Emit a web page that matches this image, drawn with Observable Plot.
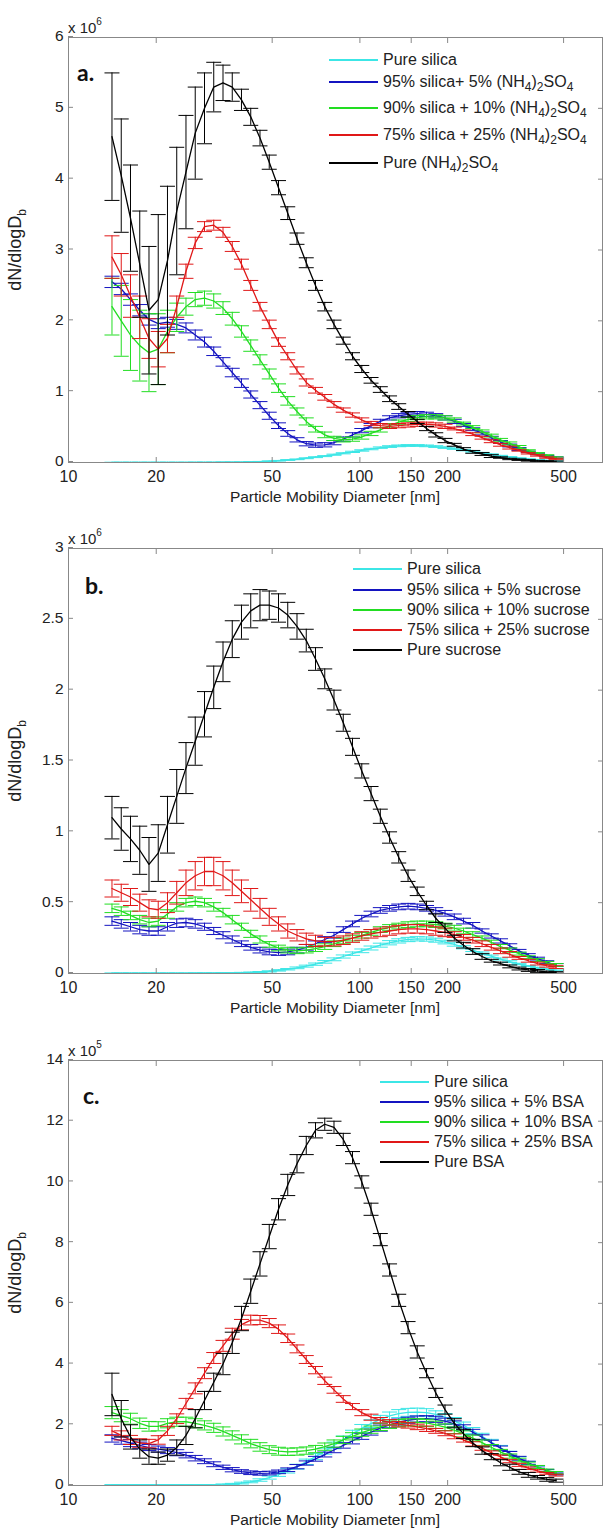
<!DOCTYPE html>
<html><head><meta charset="utf-8">
<script src="https://cdn.jsdelivr.net/npm/d3@7"></script>
<script src="https://cdn.jsdelivr.net/npm/@observablehq/plot@0.6"></script>
<style>
body{margin:0;background:#fff;font-family:'Liberation Sans',Arial,sans-serif;}
#wrap{position:relative;width:605px;height:1530px;overflow:hidden;background:#fff}
.panel{position:absolute;left:0;width:605px;height:507px}
.panel svg{position:absolute;left:0;top:0}
.expo{position:absolute;font-size:15px;line-height:15px;color:#222;transform:translateY(-50%)}
.expo sup{font-size:10px;position:relative;top:-2px}
.ylab{position:absolute;transform:translate(-50%,-50%) rotate(-90deg);font-size:18px;white-space:nowrap;color:#222}
.ylab sub{font-size:12px}
.xlab{position:absolute;transform:translate(-50%,-50%);font-size:15.5px;white-space:nowrap;color:#222}
.letter{position:absolute;font-family:Lato,'Open Sans',sans-serif;font-weight:700;font-size:23px;transform:translateY(-50%);color:#111}
.lrow{position:absolute;display:flex;align-items:center;height:20px;transform:translateY(-50%);font-size:16px;white-space:nowrap;color:#222}
.lrow .sw{width:49px;height:1.6px;margin-right:5px;flex:none}
.lrow sub{font-size:12px;vertical-align:-4px;line-height:0}
</style>
</head><body>
<div id="wrap"></div>
<script>
// Particle mobility diameters (nm)
const diameters = [14.1,15.17,16.32,17.56,18.89,20.32,21.86,23.52,25.3,27.22,
29.29,31.51,33.9,36.47,39.23,42.21,45.41,48.85,52.56,56.54,
60.83,65.45,70.41,75.75,81.49,87.67,94.32,101.5,109.2,117.5,
126.4,135.9,146.3,157.3,169.3,182.1,195.9,210.8,226.8,244.0,
262.5,282.4,303.8,326.8,351.6,378.3,407.0,437.8,471.0];

const xTicks = [10, 20, 50, 100, 150, 200, 500];
const seriesColors = ["#3ce6e6", "#1414c0", "#22dd22", "#e01818", "#000000"];

// ---- Panel a (x 10^6) ----
const a_silica = [0.002,0.002,0.002,0.002,0.002,0.002,0.002,0.002,0.002,0.003,
0.003,0.003,0.004,0.004,0.005,0.008,0.012,0.018,0.025,0.035,
0.045,0.06,0.075,0.09,0.11,0.13,0.15,0.17,0.19,0.21,
0.225,0.235,0.24,0.24,0.235,0.225,0.21,0.195,0.175,0.155,
0.135,0.115,0.095,0.078,0.062,0.048,0.037,0.028,0.02];
const a_silica_err = [0.002,0.002,0.002,0.002,0.002,0.002,0.002,0.002,0.002,0.002,
0.002,0.002,0.002,0.002,0.002,0.003,0.003,0.004,0.004,0.005,
0.005,0.006,0.006,0.007,0.008,0.008,0.009,0.01,0.01,0.01,
0.012,0.012,0.012,0.012,0.012,0.012,0.011,0.01,0.01,0.009,
0.008,0.007,0.006,0.005,0.004,0.004,0.003,0.003,0.002];
const a_5 = [2.55,2.45,2.3,2.15,2.02,1.96,1.98,1.95,1.9,1.8,
1.7,1.57,1.42,1.27,1.12,0.96,0.81,0.66,0.52,0.41,
0.32,0.265,0.245,0.25,0.28,0.33,0.39,0.45,0.52,0.58,
0.63,0.66,0.68,0.69,0.68,0.66,0.63,0.58,0.53,0.47,
0.41,0.35,0.29,0.24,0.19,0.15,0.12,0.09,0.07];
const a_5_err = [0.08,0.08,0.08,0.08,0.08,0.07,0.07,0.07,0.07,0.07,
0.07,0.06,0.06,0.06,0.06,0.05,0.05,0.05,0.04,0.04,
0.03,0.03,0.03,0.03,0.03,0.03,0.03,0.03,0.03,0.03,
0.03,0.03,0.03,0.03,0.03,0.03,0.03,0.03,0.02,0.02,
0.02,0.02,0.02,0.02,0.02,0.01,0.01,0.01,0.01];
const a_10 = [2.2,2.0,1.8,1.65,1.55,1.6,1.85,2.05,2.2,2.3,
2.32,2.28,2.18,2.03,1.85,1.65,1.45,1.25,1.05,0.87,
0.72,0.58,0.47,0.39,0.34,0.32,0.33,0.36,0.41,0.46,
0.52,0.57,0.61,0.635,0.645,0.645,0.63,0.6,0.55,0.5,
0.44,0.38,0.32,0.27,0.22,0.17,0.13,0.1,0.07];
const a_10_err = [0.4,0.5,0.5,0.5,0.55,0.5,0.3,0.2,0.12,0.1,
0.1,0.1,0.09,0.09,0.08,0.08,0.07,0.07,0.06,0.06,
0.05,0.05,0.04,0.04,0.03,0.03,0.03,0.03,0.03,0.03,
0.03,0.03,0.03,0.03,0.03,0.03,0.03,0.03,0.02,0.02,
0.02,0.02,0.02,0.02,0.02,0.01,0.01,0.01,0.01];
const a_25 = [2.9,2.65,2.35,2.05,1.75,1.6,1.75,2.2,2.7,3.1,
3.33,3.35,3.25,3.05,2.8,2.5,2.2,1.95,1.7,1.5,
1.3,1.13,1.02,0.92,0.82,0.74,0.67,0.6,0.55,0.52,
0.51,0.52,0.53,0.54,0.54,0.53,0.51,0.48,0.44,0.4,
0.35,0.3,0.25,0.21,0.17,0.13,0.1,0.07,0.05];
const a_25_err = [0.3,0.3,0.3,0.3,0.28,0.25,0.2,0.15,0.1,0.08,
0.07,0.07,0.07,0.07,0.07,0.07,0.06,0.06,0.06,0.05,
0.05,0.05,0.04,0.04,0.04,0.03,0.03,0.03,0.03,0.03,
0.03,0.03,0.03,0.03,0.03,0.03,0.03,0.02,0.02,0.02,
0.02,0.02,0.02,0.02,0.01,0.01,0.01,0.01,0.01];
const a_pure = [4.6,4.05,3.45,2.8,2.15,2.3,2.85,3.55,4.1,4.65,
5.0,5.3,5.36,5.3,5.12,4.88,4.58,4.24,3.88,3.52,
3.16,2.82,2.5,2.2,1.95,1.72,1.5,1.32,1.16,1.03,
0.9,0.79,0.68,0.58,0.48,0.39,0.31,0.25,0.19,0.15,
0.12,0.09,0.07,0.05,0.04,0.03,0.02,0.015,0.01];
const a_pure_err = [0.9,0.8,0.75,0.75,0.9,1.2,1.05,0.9,0.8,0.65,
0.5,0.35,0.25,0.2,0.15,0.12,0.11,0.1,0.1,0.09,
0.08,0.07,0.07,0.06,0.06,0.05,0.05,0.05,0.04,0.04,
0.04,0.04,0.04,0.03,0.03,0.03,0.03,0.02,0.02,0.02,
0.02,0.02,0.01,0.01,0.01,0.01,0.01,0.01,0.01];
const a_labels = ["Pure silica",
"95% silica+ 5% (NH<sub>4</sub>)<sub>2</sub>SO<sub>4</sub>",
"90% silica + 10% (NH<sub>4</sub>)<sub>2</sub>SO<sub>4</sub>",
"75% silica + 25% (NH<sub>4</sub>)<sub>2</sub>SO<sub>4</sub>",
"Pure (NH<sub>4</sub>)<sub>2</sub>SO<sub>4</sub>"];
const a_yTicks = [0, 1, 2, 3, 4, 5, 6];

// ---- Panel b (x 10^6) ----
const b_silica = [0.002,0.002,0.002,0.002,0.002,0.002,0.002,0.002,0.002,0.003,
0.003,0.003,0.004,0.004,0.005,0.007,0.01,0.015,0.022,0.03,
0.04,0.052,0.066,0.082,0.1,0.12,0.14,0.16,0.18,0.2,
0.217,0.23,0.24,0.245,0.243,0.235,0.222,0.205,0.185,0.165,
0.143,0.122,0.102,0.084,0.067,0.052,0.04,0.03,0.022];
const b_silica_err = [0.002,0.002,0.002,0.002,0.002,0.002,0.002,0.002,0.002,0.002,
0.002,0.002,0.002,0.002,0.003,0.003,0.004,0.004,0.005,0.005,
0.006,0.007,0.008,0.009,0.01,0.011,0.012,0.013,0.014,0.014,
0.015,0.015,0.015,0.015,0.015,0.014,0.013,0.012,0.011,0.01,
0.009,0.008,0.007,0.006,0.005,0.004,0.004,0.003,0.003];
const b_5 = [0.37,0.35,0.33,0.31,0.3,0.3,0.33,0.355,0.36,0.35,
0.33,0.3,0.27,0.24,0.21,0.185,0.165,0.152,0.148,0.152,
0.165,0.185,0.21,0.24,0.27,0.31,0.35,0.39,0.42,0.445,
0.46,0.47,0.475,0.47,0.46,0.445,0.425,0.4,0.37,0.34,
0.3,0.265,0.23,0.195,0.16,0.13,0.105,0.08,0.06];
const b_5_err = [0.03,0.03,0.03,0.03,0.03,0.03,0.03,0.03,0.03,0.03,
0.025,0.025,0.025,0.025,0.02,0.02,0.02,0.02,0.02,0.02,
0.02,0.02,0.02,0.02,0.02,0.02,0.02,0.02,0.02,0.02,
0.02,0.02,0.02,0.02,0.02,0.02,0.02,0.02,0.02,0.02,
0.015,0.015,0.015,0.015,0.01,0.01,0.01,0.01,0.01];
const b_10 = [0.46,0.44,0.41,0.38,0.36,0.37,0.42,0.47,0.5,0.51,
0.5,0.47,0.43,0.38,0.33,0.28,0.24,0.205,0.18,0.165,
0.16,0.165,0.175,0.19,0.21,0.23,0.25,0.27,0.29,0.31,
0.325,0.335,0.345,0.35,0.35,0.345,0.335,0.32,0.3,0.275,
0.25,0.22,0.19,0.165,0.14,0.115,0.095,0.075,0.06];
const b_10_err = [0.03,0.03,0.03,0.03,0.03,0.03,0.03,0.03,0.03,0.03,
0.03,0.03,0.03,0.03,0.025,0.025,0.025,0.02,0.02,0.02,
0.02,0.02,0.02,0.02,0.02,0.02,0.02,0.02,0.02,0.02,
0.02,0.02,0.02,0.02,0.02,0.02,0.02,0.02,0.02,0.02,
0.015,0.015,0.015,0.015,0.01,0.01,0.01,0.01,0.01];
const b_25 = [0.6,0.57,0.54,0.5,0.46,0.45,0.5,0.57,0.64,0.69,
0.72,0.72,0.69,0.64,0.58,0.52,0.46,0.4,0.35,0.3,
0.27,0.245,0.23,0.225,0.225,0.235,0.25,0.265,0.28,0.29,
0.3,0.31,0.315,0.315,0.31,0.3,0.29,0.275,0.255,0.235,
0.21,0.185,0.16,0.135,0.11,0.09,0.07,0.055,0.045];
const b_25_err = [0.06,0.06,0.06,0.06,0.06,0.06,0.07,0.08,0.09,0.1,
0.1,0.1,0.1,0.09,0.08,0.08,0.07,0.06,0.05,0.05,
0.04,0.04,0.04,0.03,0.03,0.03,0.03,0.03,0.03,0.03,
0.03,0.03,0.03,0.03,0.03,0.03,0.03,0.02,0.02,0.02,
0.02,0.02,0.02,0.02,0.01,0.01,0.01,0.01,0.01];
const b_pure = [1.1,1.02,0.95,0.87,0.77,0.85,1.05,1.25,1.45,1.64,
1.83,2.02,2.2,2.36,2.48,2.56,2.6,2.6,2.58,2.53,
2.45,2.35,2.22,2.08,1.93,1.77,1.6,1.43,1.27,1.11,
0.96,0.82,0.69,0.58,0.48,0.39,0.32,0.25,0.2,0.155,
0.12,0.09,0.07,0.05,0.035,0.025,0.018,0.012,0.008];
const b_pure_err = [0.15,0.15,0.16,0.17,0.19,0.2,0.2,0.19,0.18,0.17,
0.16,0.15,0.14,0.13,0.12,0.12,0.11,0.1,0.1,0.09,
0.09,0.08,0.08,0.07,0.07,0.06,0.06,0.05,0.05,0.05,
0.04,0.04,0.04,0.03,0.03,0.03,0.03,0.02,0.02,0.02,
0.02,0.01,0.01,0.01,0.01,0.01,0.01,0.005,0.005];
const b_labels = ["Pure silica", "95% silica + 5% sucrose", "90% silica + 10% sucrose",
"75% silica + 25% sucrose", "Pure sucrose"];
const b_yTicks = [0, 0.5, 1, 1.5, 2, 2.5, 3];

// ---- Panel c (x 10^5) ----
const c_silica = [0.02,0.02,0.02,0.02,0.02,0.02,0.02,0.02,0.02,0.02,
0.02,0.02,0.03,0.05,0.08,0.12,0.18,0.26,0.36,0.48,
0.62,0.78,0.95,1.13,1.32,1.51,1.7,1.88,2.04,2.18,
2.29,2.37,2.41,2.42,2.4,2.34,2.25,2.13,1.98,1.81,
1.62,1.43,1.24,1.06,0.89,0.74,0.6,0.48,0.38];
const c_silica_err = [0.01,0.01,0.01,0.01,0.01,0.01,0.01,0.01,0.01,0.01,
0.01,0.01,0.02,0.02,0.03,0.03,0.04,0.05,0.06,0.07,
0.08,0.09,0.1,0.1,0.11,0.12,0.12,0.13,0.13,0.13,
0.13,0.13,0.13,0.13,0.13,0.12,0.12,0.11,0.11,0.1,
0.1,0.09,0.08,0.07,0.06,0.05,0.04,0.04,0.03];
const c_5 = [1.55,1.48,1.4,1.32,1.25,1.2,1.15,1.08,1.0,0.9,
0.8,0.7,0.6,0.52,0.46,0.42,0.4,0.41,0.45,0.52,
0.62,0.74,0.88,1.02,1.17,1.32,1.47,1.62,1.76,1.89,
2.0,2.09,2.15,2.19,2.2,2.18,2.12,2.03,1.91,1.76,
1.59,1.41,1.23,1.06,0.9,0.75,0.61,0.49,0.38];
const c_5_err = [0.12,0.12,0.12,0.11,0.1,0.1,0.1,0.1,0.09,0.09,
0.08,0.08,0.07,0.07,0.06,0.06,0.06,0.06,0.06,0.06,
0.07,0.07,0.08,0.08,0.09,0.09,0.1,0.1,0.1,0.1,
0.1,0.1,0.1,0.1,0.1,0.1,0.1,0.1,0.09,0.09,
0.08,0.08,0.07,0.06,0.06,0.05,0.04,0.04,0.03];
const c_10 = [2.4,2.3,2.2,2.05,1.95,1.95,2.05,2.1,2.1,2.05,
1.98,1.9,1.78,1.65,1.52,1.38,1.27,1.18,1.13,1.11,
1.12,1.15,1.2,1.28,1.38,1.5,1.62,1.74,1.84,1.93,
2.0,2.05,2.08,2.08,2.06,2.0,1.92,1.82,1.7,1.56,
1.41,1.26,1.11,0.97,0.84,0.72,0.61,0.5,0.42];
const c_10_err = [0.2,0.2,0.18,0.17,0.16,0.15,0.15,0.15,0.15,0.15,
0.15,0.15,0.15,0.15,0.15,0.14,0.14,0.13,0.13,0.12,
0.12,0.12,0.12,0.12,0.12,0.12,0.12,0.12,0.12,0.12,
0.12,0.12,0.12,0.12,0.12,0.12,0.11,0.11,0.1,0.1,
0.09,0.09,0.08,0.07,0.06,0.05,0.05,0.04,0.04];
const c_25 = [1.8,1.65,1.5,1.4,1.38,1.5,1.8,2.2,2.7,3.2,
3.7,4.2,4.6,5.0,5.3,5.45,5.45,5.35,5.15,4.85,
4.5,4.15,3.8,3.45,3.15,2.85,2.6,2.4,2.25,2.15,
2.08,2.02,1.98,1.93,1.87,1.8,1.72,1.62,1.5,1.37,
1.23,1.08,0.94,0.8,0.68,0.57,0.48,0.4,0.34];
const c_25_err = [0.15,0.15,0.15,0.14,0.14,0.14,0.15,0.16,0.17,0.18,
0.18,0.18,0.18,0.18,0.17,0.16,0.15,0.15,0.14,0.14,
0.13,0.13,0.12,0.12,0.11,0.11,0.1,0.1,0.1,0.09,
0.09,0.09,0.09,0.09,0.09,0.08,0.08,0.08,0.07,0.07,
0.07,0.06,0.06,0.05,0.05,0.04,0.04,0.03,0.03];
const c_pure = [3.0,2.2,1.6,1.2,0.95,0.9,1.0,1.25,1.65,2.2,
2.8,3.4,4.0,4.7,5.5,6.4,7.3,8.2,9.1,9.9,
10.6,11.2,11.7,11.9,11.8,11.4,10.8,10.0,9.1,8.1,
7.1,6.1,5.2,4.4,3.7,3.05,2.5,2.05,1.7,1.4,
1.15,0.95,0.75,0.6,0.45,0.35,0.27,0.2,0.16];
const c_pure_err = [0.7,0.6,0.4,0.3,0.25,0.2,0.2,0.25,0.3,0.3,
0.3,0.3,0.35,0.35,0.4,0.4,0.4,0.4,0.35,0.35,
0.3,0.3,0.25,0.2,0.2,0.2,0.2,0.2,0.2,0.2,
0.2,0.2,0.2,0.2,0.15,0.15,0.15,0.15,0.15,0.12,
0.12,0.1,0.1,0.1,0.08,0.08,0.06,0.06,0.05];
const c_labels = ["Pure silica", "95% silica + 5% BSA", "90% silica + 10% BSA",
"75% silica + 25% BSA", "Pure BSA"];
const c_yTicks = [0, 2, 4, 6, 8, 10, 12, 14];

// horizontal cap symbol for error bars
const capSymbol = {draw(ctx, size) { const r = Math.sqrt(size / Math.PI); ctx.moveTo(-r, 0); ctx.lineTo(r, 0); }};

function el(tag, cls, html) { const e = document.createElement(tag); if (cls) e.className = cls; if (html != null) e.innerHTML = html; return e; }

function panel(cfg) {
  const div = el("div", "panel");
  div.style.top = cfg.top + "px";
  const marks = [];
  cfg.values.forEach((vals, i) => {
    if (vals.length !== diameters.length || cfg.errors[i].length !== diameters.length) throw new Error("length mismatch " + cfg.letter + i);
    const rows = diameters.map((d, k) => ({d, y: vals[k], e: cfg.errors[i][k]}));
    const c = seriesColors[i];
    marks.push(
      Plot.ruleX(rows, {x: "d", y1: r => r.y - r.e, y2: r => r.y + r.e, stroke: c, strokeWidth: 1}),
      Plot.dot(rows, {x: "d", y: r => r.y + r.e, symbol: capSymbol, r: 7.5, stroke: c, strokeWidth: 1, fill: "none"}),
      Plot.dot(rows, {x: "d", y: r => r.y - r.e, symbol: capSymbol, r: 7.5, stroke: c, strokeWidth: 1, fill: "none"}),
      Plot.line(rows, {x: "d", y: "y", stroke: c, strokeWidth: 1.3})
    );
  });
  const svg = Plot.plot({
    width: 605, height: 507, marginLeft: 68, marginRight: 3, marginTop: 37, marginBottom: 45,
    style: {fontFamily: "'Liberation Sans', Arial, sans-serif", fontSize: "16px", background: "transparent", color: "#222"},
    x: {type: "log", domain: [10, 680]},
    y: {domain: cfg.yDomain},
    marks: [
      ...marks,
      Plot.frame({stroke: "#888"}),
      Plot.axisX({ticks: xTicks, tickFormat: d => String(d), tickSize: -5, tickPadding: 13, label: null, stroke: "#888", fill: "#222", fontSize: 16}),
      Plot.axisX({anchor: "top", ticks: xTicks, tickFormat: () => "", tickSize: -5, label: null, stroke: "#888"}),
      Plot.axisY({ticks: cfg.yTicks, tickFormat: d => String(d), tickSize: -5, tickPadding: 10, dy: -1, label: null, stroke: "#888", fill: "#222", fontSize: 15.5}),
      Plot.axisY({anchor: "right", ticks: cfg.yTicks, tickFormat: () => "", tickSize: -5, label: null, stroke: "#888"})
    ]
  });
  div.appendChild(svg);
  const ex = el("div", "expo", "x 10<sup>" + cfg.exponent + "</sup>");
  ex.style.left = "68px"; ex.style.top = "25px"; div.appendChild(ex);
  const yl = el("div", "ylab", "dN/dlogD<sub>b</sub>");
  yl.style.left = "17px"; yl.style.top = "250px"; div.appendChild(yl);
  const xl = el("div", "xlab", "Particle Mobility Diameter [nm]");
  xl.style.left = "335px"; xl.style.top = "497px"; div.appendChild(xl);
  const lt = el("div", "letter", cfg.letter);
  lt.style.left = cfg.letterPos[0] + "px"; lt.style.top = cfg.letterPos[1] + "px"; div.appendChild(lt);
  cfg.labels.forEach((lab, i) => {
    const row = el("div", "lrow");
    row.style.left = cfg.legendX + "px"; row.style.top = cfg.legendYs[i] + "px";
    const sw = el("span", "sw"); sw.style.background = seriesColors[i];
    row.appendChild(sw);
    row.appendChild(el("span", null, lab));
    div.appendChild(row);
  });
  document.getElementById("wrap").appendChild(div);
}

panel({top: 0, values: [a_silica, a_5, a_10, a_25, a_pure],
  errors: [a_silica_err, a_5_err, a_10_err, a_25_err, a_pure_err],
  yDomain: [0, 6], yTicks: a_yTicks, exponent: 6, letter: "a.", letterPos: [77, 72],
  labels: a_labels, legendX: 329, legendYs: [60, 82, 108, 135, 163]});
panel({top: 511, values: [b_silica, b_5, b_10, b_25, b_pure],
  errors: [b_silica_err, b_5_err, b_10_err, b_25_err, b_pure_err],
  yDomain: [0, 3], yTicks: b_yTicks, exponent: 6, letter: "b.", letterPos: [85, 74],
  labels: b_labels, legendX: 353, legendYs: [58, 79, 99, 119, 139]});
panel({top: 1023, values: [c_silica, c_5, c_10, c_25, c_pure],
  errors: [c_silica_err, c_5_err, c_10_err, c_25_err, c_pure_err],
  yDomain: [0, 14], yTicks: c_yTicks, exponent: 5, letter: "c.", letterPos: [83, 72],
  labels: c_labels, legendX: 380, legendYs: [59, 79, 99, 119, 139]});
</script>
</body></html>
